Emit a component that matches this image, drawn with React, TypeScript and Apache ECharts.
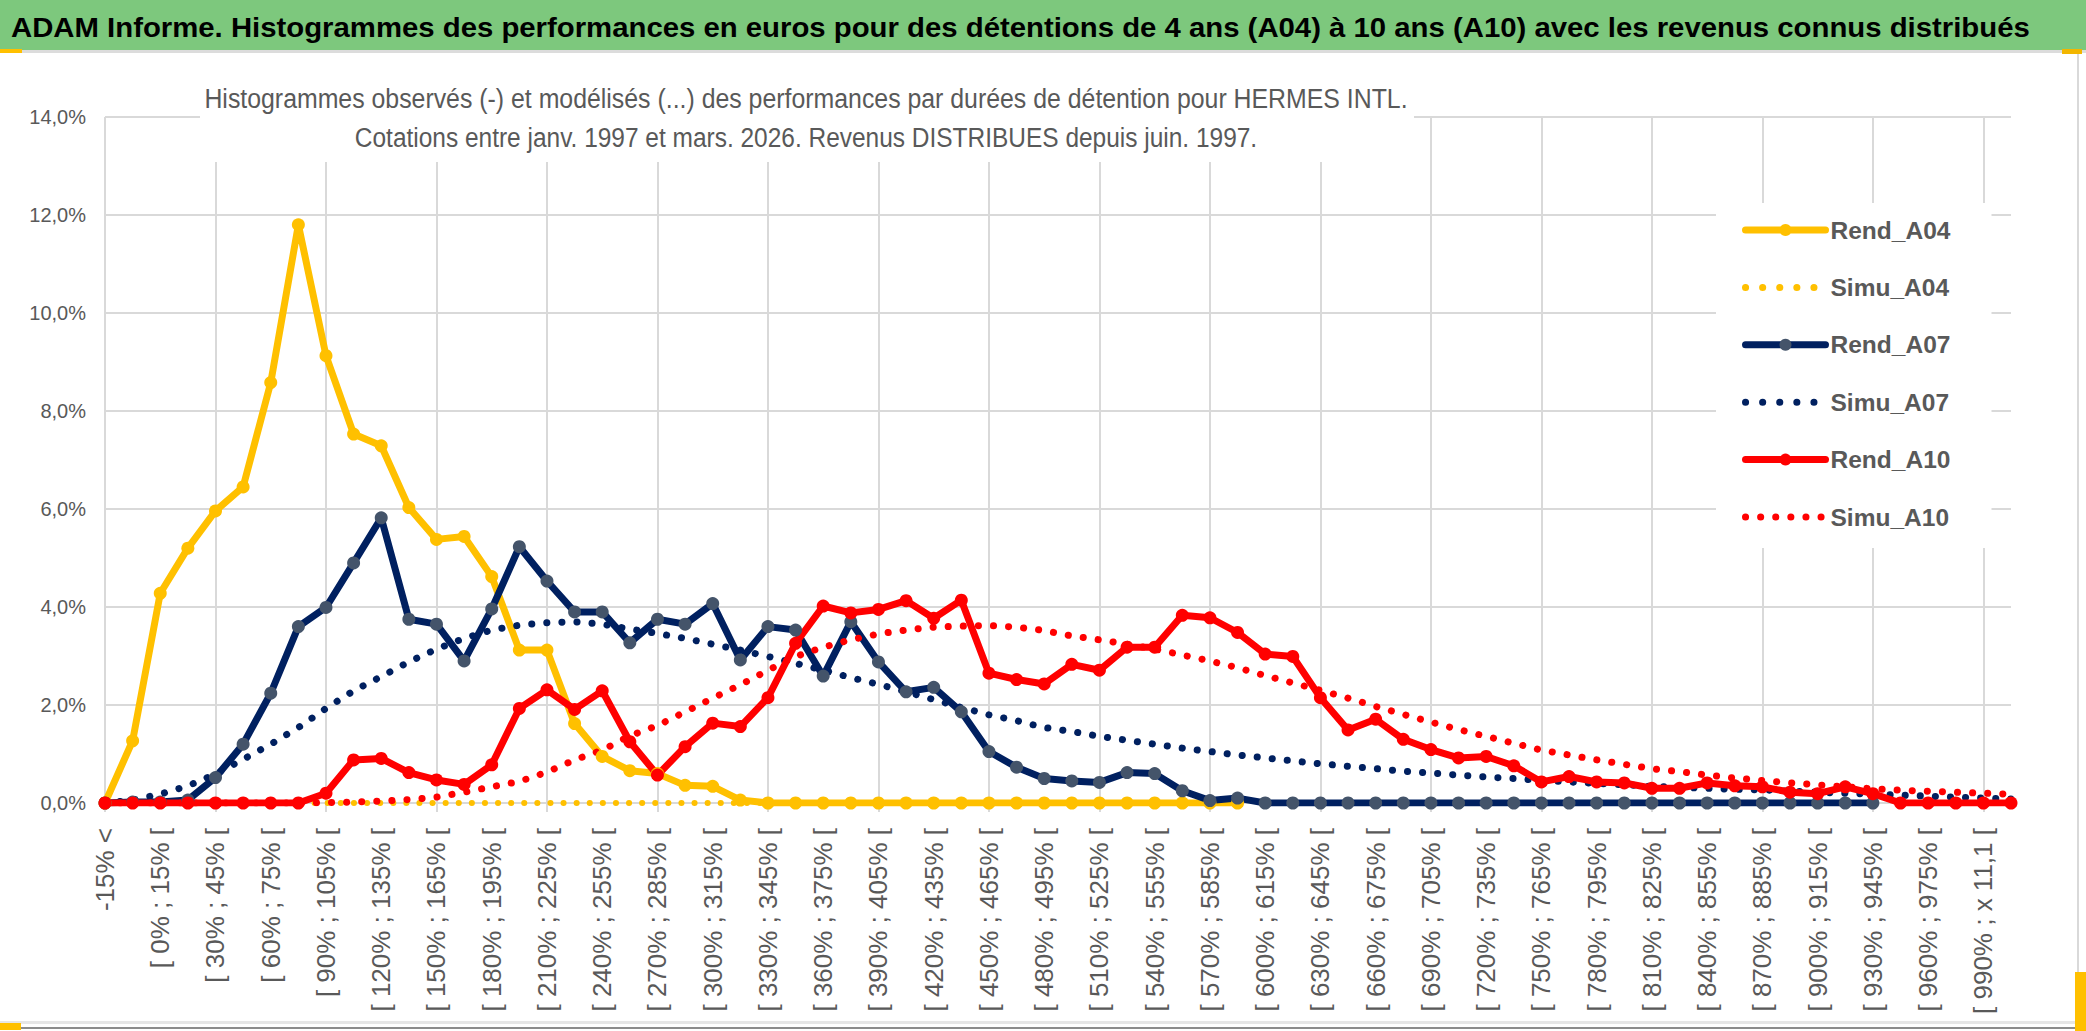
import React, { useEffect, useRef } from "react";
import * as echarts from "echarts";

const headerText =
  "ADAM Informe. Histogrammes des performances en euros pour des détentions de 4 ans (A04) à 10 ans (A10) avec les revenus connus distribués";
const subtitleLines = [
  "Histogrammes observés (-) et modélisés (...) des performances par durées de détention pour HERMES INTL.",
  "Cotations entre janv. 1997 et mars. 2026. Revenus DISTRIBUES depuis juin. 1997.",
];

const categories = [
  "-15% <", "[ -15% ; 0% [", "[ 0% ; 15% [", "[ 15% ; 30% [", "[ 30% ; 45% [", "[ 45% ; 60% [",
  "[ 60% ; 75% [", "[ 75% ; 90% [", "[ 90% ; 105% [", "[ 105% ; 120% [", "[ 120% ; 135% [",
  "[ 135% ; 150% [", "[ 150% ; 165% [", "[ 165% ; 180% [", "[ 180% ; 195% [", "[ 195% ; 210% [",
  "[ 210% ; 225% [", "[ 225% ; 240% [", "[ 240% ; 255% [", "[ 255% ; 270% [", "[ 270% ; 285% [",
  "[ 285% ; 300% [", "[ 300% ; 315% [", "[ 315% ; 330% [", "[ 330% ; 345% [", "[ 345% ; 360% [",
  "[ 360% ; 375% [", "[ 375% ; 390% [", "[ 390% ; 405% [", "[ 405% ; 420% [", "[ 420% ; 435% [",
  "[ 435% ; 450% [", "[ 450% ; 465% [", "[ 465% ; 480% [", "[ 480% ; 495% [", "[ 495% ; 510% [",
  "[ 510% ; 525% [", "[ 525% ; 540% [", "[ 540% ; 555% [", "[ 555% ; 570% [", "[ 570% ; 585% [",
  "[ 585% ; 600% [", "[ 600% ; 615% [", "[ 615% ; 630% [", "[ 630% ; 645% [", "[ 645% ; 660% [",
  "[ 660% ; 675% [", "[ 675% ; 690% [", "[ 690% ; 705% [", "[ 705% ; 720% [", "[ 720% ; 735% [",
  "[ 735% ; 750% [", "[ 750% ; 765% [", "[ 765% ; 780% [", "[ 780% ; 795% [", "[ 795% ; 810% [",
  "[ 810% ; 825% [", "[ 825% ; 840% [", "[ 840% ; 855% [", "[ 855% ; 870% [", "[ 870% ; 885% [",
  "[ 885% ; 900% [", "[ 900% ; 915% [", "[ 915% ; 930% [", "[ 930% ; 945% [", "[ 945% ; 960% [",
  "[ 960% ; 975% [", "[ 975% ; 990% [", "[ 990% ; x 11,1 [", "x 11,1 <",
];

// values in %
const rendA04 = [
  0, 1.27, 4.28, 5.2, 5.96, 6.45, 8.58, 11.8, 9.13, 7.53, 7.29, 6.03, 5.38, 5.44, 4.62, 3.12, 3.12,
  1.62, 0.95, 0.66, 0.6, 0.36, 0.34, 0.06, 0, 0, 0, 0, 0, 0, 0, 0, 0, 0, 0, 0, 0, 0, 0, 0, 0, 0,
];
const simuA04 = [
  0, 0, 0, 0, 0, 0, 0, 0, 0, 0, 0, 0, 0, 0, 0, 0, 0, 0, 0, 0, 0, 0, 0, 0, 0, 0, 0, 0, 0, 0, 0, 0,
  0, 0, 0, 0, 0, 0, 0, 0, 0, 0,
];
const rendA07 = [
  0, 0.02, 0.02, 0.06, 0.52, 1.2, 2.24, 3.6, 3.99, 4.9, 5.82, 3.75, 3.65, 2.9, 3.96, 5.23, 4.53,
  3.9, 3.9, 3.27, 3.75, 3.65, 4.07, 2.92, 3.6, 3.53, 2.59, 3.7, 2.88, 2.27, 2.36, 1.86, 1.05, 0.73,
  0.5, 0.45, 0.42, 0.62, 0.6, 0.25, 0.05, 0.1, 0, 0, 0, 0, 0, 0, 0, 0, 0, 0, 0, 0, 0, 0, 0, 0, 0,
  0, 0, 0, 0, 0, 0,
];
const simuA07 = [
  0, 0.06, 0.18, 0.35, 0.59, 0.89, 1.2, 1.54, 1.93, 2.29, 2.58, 2.88, 3.14, 3.36, 3.53, 3.63, 3.68,
  3.7, 3.65, 3.55, 3.46, 3.36, 3.24, 3.12, 2.99, 2.85, 2.71, 2.56, 2.42, 2.27, 2.11, 1.95, 1.8,
  1.68, 1.54, 1.46, 1.36, 1.28, 1.2, 1.12, 1.05, 0.98, 0.92, 0.86, 0.8, 0.75, 0.7, 0.65, 0.61,
  0.57, 0.53, 0.5, 0.46, 0.43, 0.4, 0.37, 0.34, 0.32, 0.3, 0.28, 0.27, 0.24, 0.22, 0.2, 0.18, 0.16,
  0.14, 0.12, 0.1, 0.08,
];
const rendA10 = [
  0, 0, 0, 0, 0, 0, 0, 0, 0.2, 0.88, 0.91, 0.62, 0.47, 0.38, 0.78, 1.93, 2.31, 1.91, 2.29, 1.25,
  0.57, 1.15, 1.63, 1.56, 2.15, 3.26, 4.02, 3.88, 3.95, 4.13, 3.77, 4.14, 2.65, 2.52, 2.43, 2.83,
  2.71, 3.18, 3.18, 3.83, 3.78, 3.48, 3.04, 2.99, 2.15, 1.49, 1.71, 1.3, 1.09, 0.92, 0.95, 0.76,
  0.43, 0.54, 0.43, 0.41, 0.3, 0.3, 0.41, 0.35, 0.33, 0.22, 0.19, 0.33, 0.19, 0, 0, 0, 0, 0,
];
const simuA10 = [
  0, 0, 0, 0, 0, 0, 0, 0, 0.01, 0.02, 0.04, 0.07, 0.12, 0.22, 0.33, 0.44, 0.63, 0.88, 1.08, 1.37,
  1.58, 1.86, 2.14, 2.41, 2.71, 2.99, 3.18, 3.33, 3.45, 3.53, 3.59, 3.61, 3.62, 3.59, 3.52, 3.41,
  3.33, 3.24, 3.14, 3.02, 2.9, 2.76, 2.6, 2.45, 2.3, 2.14, 1.97, 1.81, 1.65, 1.5, 1.36, 1.22, 1.08,
  0.98, 0.88, 0.79, 0.7, 0.64, 0.57, 0.51, 0.46, 0.41, 0.37, 0.33, 0.29, 0.26, 0.24, 0.22, 0.2,
  0.18,
];
const yTicks = { min: 0, max: 14, interval: 2 };

const GRID = "#D9D9D9";
const LABEL = "#595959";
const SANS = '"Liberation Sans", sans-serif';

export default function App() {
  const ref = useRef<HTMLDivElement>(null);

  useEffect(() => {
    document.body.style.margin = "0";
    const chart = echarts.init(ref.current!, null, { renderer: "svg" });
    const ctx = document.createElement("canvas").getContext("2d")!;
    const measure = (text: string, font: string) => {
      ctx.font = font;
      return ctx.measureText(text).width;
    };
    // pick a condensed family if one happens to be installed
    const probe = "Rend_A04 Histogrammes";
    const base = measure(probe, "bold 28px monospace");
    const narrowCandidates = ["Liberation Sans Narrow", "DejaVu Sans Condensed", "Noto Sans Condensed"];
    let narrow = "";
    for (const f of narrowCandidates) {
      if (Math.abs(measure(probe, `bold 28px "${f}", monospace`) - base) > 0.5) {
        narrow = f;
        break;
      }
    }
    const FAM = narrow ? `"${narrow}", ${SANS}` : SANS;
    const fit = (text: string, font: string, target: number) => {
      const w = measure(text, font);
      return w > 0 ? target / w : 1;
    };
    const headerFont = `bold 28px ${FAM}`;
    const subFont = `28px ${FAM}`;
    const hScale = fit(headerText, headerFont, 2020);
    const s1 = fit(subtitleLines[0], subFont, 1204);
    const s2 = fit(subtitleLines[1], subFont, 903);
    const legendSize = Math.max(
      20,
      Math.min(28, (28 * 120) / Math.max(1, measure("Rend_A04", `bold 28px ${FAM}`)))
    );
    const legendTextW = measure("Rend_A04", `bold ${legendSize}px ${FAM}`);
    const legendPadRight = Math.max(10, 1988 - 1716 - 26 - 80 - 5 - legendTextW);

    const rend = (name: string, data: number[], line: string, mark: string) => ({
      name,
      type: "line",
      data,
      symbol: "circle",
      symbolSize: 13,
      showSymbol: true,
      lineStyle: { color: line, width: 7, cap: "round", join: "round" },
      itemStyle: { color: mark },
      emphasis: { disabled: true },
    });
    const simu = (name: string, data: number[], color: string, w: number, gap: number) => ({
      name,
      type: "line",
      data,
      symbol: "none",
      lineStyle: { color, width: w, type: [0.1, gap], cap: "round" },
      itemStyle: { color },
      emphasis: { disabled: true },
    });
    const legRend = (name: string) => ({ name, lineStyle: { width: 7, cap: "round" } });
    const legSimu = (name: string, gap: number) => ({
      name,
      itemStyle: { opacity: 0 },
      lineStyle: { width: 7, type: [0.1, gap], cap: "round" },
    });

    chart.setOption({
      animation: false,
      backgroundColor: "#ffffff",
      textStyle: { fontFamily: SANS },
      grid: { left: 105, right: 75, top: 117, bottom: 228 },
      legend: {
        orient: "vertical",
        left: 1716,
        top: 203,
        padding: [12, legendPadRight, 16, 26],
        backgroundColor: "#ffffff",
        itemWidth: 80,
        itemHeight: 15,
        itemGap: 27.4,
        selectedMode: false,
        textStyle: {
          color: LABEL,
          fontSize: legendSize,
          fontWeight: "bold",
          fontFamily: FAM,
          lineHeight: 30,
        },
        data: [
          legRend("Rend_A04"),
          legSimu("Simu_A04", 17),
          legRend("Rend_A07"),
          legSimu("Simu_A07", 17),
          legRend("Rend_A10"),
          legSimu("Simu_A10", 15),
        ],
      },
      xAxis: {
        type: "category",
        data: categories,
        boundaryGap: false,
        axisLine: { show: true, lineStyle: { color: GRID, width: 2 } },
        axisTick: { show: true, interval: 3, length: 9, lineStyle: { color: GRID, width: 2 } },
        axisLabel: {
          interval: 1,
          rotate: 90,
          margin: 25,
          color: LABEL,
          fontSize: 26,
          fontFamily: SANS,
        },
        splitLine: { show: true, interval: 3, lineStyle: { color: GRID, width: 2 } },
      },
      yAxis: {
        type: "value",
        min: yTicks.min,
        max: yTicks.max,
        interval: yTicks.interval,
        axisLine: { show: false },
        axisTick: { show: false },
        axisLabel: {
          formatter: (v: number) => v.toFixed(1).replace(".", ",") + "%",
          color: LABEL,
          fontSize: 20,
          margin: 19,
          fontFamily: SANS,
        },
        splitLine: { lineStyle: { color: GRID, width: 2 } },
      },
      series: [
        rend("Rend_A04", rendA04, "#FFC000", "#FFC000"),
        simu("Simu_A04", simuA04, "#FFC000", 6, 13),
        rend("Rend_A07", rendA07, "#002060", "#44546A"),
        simu("Simu_A07", simuA07, "#002060", 7, 15),
        rend("Rend_A10", rendA10, "#FF0000", "#FF0000"),
        simu("Simu_A10", simuA10, "#FF0000", 7, 15),
      ],
      graphic: [
        { type: "rect", z: 10, shape: { x: 0, y: 0, width: 2086, height: 50 }, style: { fill: "#7DC87D" } },
        { type: "rect", z: 10, shape: { x: 0, y: 50, width: 2086, height: 3 }, style: { fill: "#DCDCDC" } },
        { type: "rect", z: 11, shape: { x: 0, y: 49, width: 22, height: 4 }, style: { fill: "#FFC000" } },
        { type: "rect", z: 11, shape: { x: 2062, y: 49, width: 20, height: 5 }, style: { fill: "#F2B600" } },
        { type: "rect", z: 10, shape: { x: 2077, y: 53, width: 2, height: 970 }, style: { fill: "#D9D9D9" } },
        { type: "rect", z: 10, shape: { x: 0, y: 1021, width: 2086, height: 3 }, style: { fill: "#E6E6E6" } },
        { type: "rect", z: 10, shape: { x: 0, y: 1027, width: 2086, height: 2 }, style: { fill: "#8C8C8C" } },
        { type: "rect", z: 11, shape: { x: 0, y: 1023, width: 21, height: 7 }, style: { fill: "#FFC000" } },
        { type: "rect", z: 11, shape: { x: 2075, y: 972, width: 11, height: 59 }, style: { fill: "#FFC000" } },
        {
          type: "text",
          z: 12,
          x: 11,
          y: 27,
          scaleX: hScale,
          style: {
            text: headerText,
            font: headerFont,
            fill: "#000000",
            textAlign: "left",
            textVerticalAlign: "middle",
          },
        },
        { type: "rect", z: 10, shape: { x: 200, y: 66, width: 1214, height: 96 }, style: { fill: "#ffffff" } },
        {
          type: "text",
          z: 12,
          x: 806,
          y: 98,
          scaleX: s1,
          style: {
            text: subtitleLines[0],
            font: subFont,
            fill: LABEL,
            textAlign: "center",
            textVerticalAlign: "middle",
          },
        },
        {
          type: "text",
          z: 12,
          x: 806,
          y: 137,
          scaleX: s2,
          style: {
            text: subtitleLines[1],
            font: subFont,
            fill: LABEL,
            textAlign: "center",
            textVerticalAlign: "middle",
          },
        },
      ],
    });
    return () => chart.dispose();
  }, []);

  return (
    <div
      ref={ref}
      style={{ position: "absolute", left: 0, top: 0, width: 2086, height: 1031 }}
    />
  );
}
